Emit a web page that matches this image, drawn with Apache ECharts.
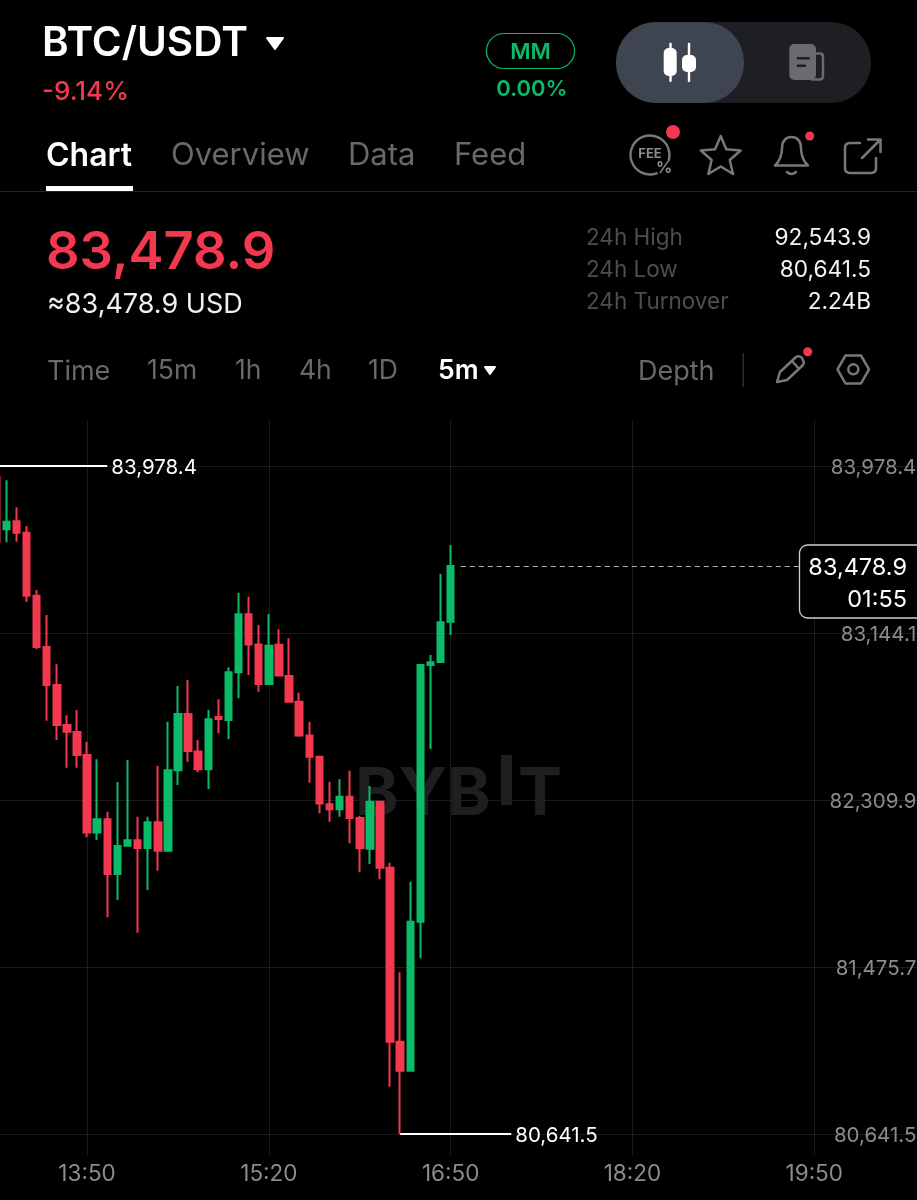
<!DOCTYPE html>
<html>
<head>
    <meta charset="utf-8">
    <title>BTC/USDT</title>
    <script src="https://cdn.jsdelivr.net/npm/echarts@6/dist/echarts.min.js"></script>
    <style>
        html, body { margin: 0; padding: 0; background: #000; }
    </style>
</head>
<body>
<div id="main" style="width: 917px;height:1200px;"></div>
<script type="text/javascript">

        // 5m candles, first one starts at the left edge of the screen
        var opens  = [83923.5,83662,83702,83645,83330.5,83074,82884,82685,82650,82535,82147,82213.5,81940,82082,82108.6,82070,82198.6,82057,82458,82739.5,82552,82463,82724.6,82709.6,82948,83237.6,83086.7,82889.4,83086,82929,82801,82632,82526,82289,82263.5,82326,82220,82067,82301,81971.8,81102.5,80957.7,81702,82984.3,82999.3,83200.6];
        var closes = [83598.7,83700,83645,83330.5,83074,82884,82685,82651,82535,82147,82213.5,81940,82080,82108.6,82070,82198.6,82057,82458,82739.5,82555,82463,82713,82714.6,82948,83237.6,83086.7,82889.4,83080.7,82932,82801,82632,82526,82292.5,82263.5,82326,82220,82068.7,82301,81971.8,81102.5,80957.7,81702,82984.3,82997.8,83197.6,83478.9];
        var lows   = [83597,83597,83600,83300.5,83063,82706,82610,82471,82471,82124,82110,81724,81810,82077,81647,81860,81957,82050,82385,82501,82448,82365,82643,82614.7,82818,82934,82851,82889.4,82932,82801,82626,82396,82243.5,82201.5,82226.5,82093.6,81948.7,81990,81913.8,80877.7,80641.5,80957.7,81519.2,82564.7,82999.3,83134.2];
        var highs  = [83925,83907,83772,83679,83359,83234,82988,82733,82759.5,82601,82513,82251.5,82400,82510,82226.5,82226.5,82481,82701,82879,82909,82610,82759.5,82813,82973,83345.5,83325.5,83184,83239,83162.6,83117.7,82846,82701,82529.7,82401,82413,82456,82231.5,82380,82301,81996.7,81449,81901.8,82984.3,83034.3,83438.9,83583.8];

        var priceTicks = [83978.4, 83144.1, 82309.9, 81475.7, 80641.5];
        var dayHigh = 83978.4;
        var dayLow = 80641.5;
        var lastPrice = 83478.9;
        var countdown = '01:55';

        // 13:05 onwards, the right part of the axis stays empty
        var categories = [];
        for (var m = 13 * 60 + 5, n = 0; n < 93; n++, m += 5) {
            var hh = Math.floor(m / 60) % 24, mm = m % 60;
            categories.push((hh < 10 ? '0' : '') + hh + ':' + (mm < 10 ? '0' : '') + mm);
        }

        var RED = '#f4384f', GREEN = '#0abb68', GRIDLINE = '#1b1b1d', AXIS_TEXT = '#8b8b8d';
        var TAB_TEXT = '#68696d', DIM_TEXT = '#4d4e52', ICON = '#77787b';
        var FONT = 'Inter, "Noto Sans", sans-serif';

        function fmt(v) {
            return v.toLocaleString('en-US', {minimumFractionDigits: 1, maximumFractionDigits: 1});
        }

        function txt(x, y, text, size, color, weight, align) {
            return {
                type: 'text', z: 10,
                style: {
                    x: x, y: y, text: text, fill: color,
                    font: (weight || 400) + ' ' + size + 'px ' + FONT,
                    textAlign: align || 'left', textVerticalAlign: 'middle'
                }
            };
        }
        function rrect(x, y, w, h, r, fill, z) {
            return {type: 'rect', z: z || 10, shape: {x: x, y: y, width: w, height: h, r: r}, style: {fill: fill}};
        }
        function dot(x, y, r) {
            return {type: 'circle', z: 11, shape: {cx: x, cy: y, r: r}, style: {fill: RED}};
        }
        // the graphic component has no plain path type, so icons get registered as shapes
        var iconCount = 0;
        function stroke(d, color, width) {
            var name = 'icon' + (iconCount++);
            echarts.graphic.registerShape(name, echarts.graphic.extendPath(d));
            return {type: name, z: 10, style: {fill: 'none', stroke: color || ICON, lineWidth: width || 2.5, lineJoin: 'round', lineCap: 'round'}};
        }
        function caret(x0, x1, y0, y1) {
            return {type: 'polygon', z: 10, shape: {points: [[x0, y0], [x1, y0], [(x0 + x1) / 2, y1]]}, style: {fill: '#fff', stroke: '#fff', lineWidth: 2, lineJoin: 'round'}};
        }

        function starPoints(cx, cy, R, r) {
            var pts = [];
            for (var i = 0; i < 10; i++) {
                var a = -Math.PI / 2 + i * Math.PI / 5, q = i % 2 ? r : R;
                pts.push([cx + q * Math.cos(a), cy + q * Math.sin(a)]);
            }
            return pts;
        }

        var header = [
            txt(42, 44, 'BTC/USDT', 40.5, '#fff', 600),
            caret(267, 283, 38, 49),
            txt(42, 92.5, '-9.14%', 26, RED, 500),

            // MM pill
            {type: 'rect', z: 10, shape: {x: 486.5, y: 33.5, width: 88, height: 35, r: 17.5}, style: {fill: 'none', stroke: GREEN, lineWidth: 1.2}},
            txt(530.5, 52, 'MM', 22, GREEN, 600, 'center'),
            txt(532, 89, '0.00%', 22, GREEN, 600, 'center'),

            // chart / news switch
            rrect(616, 22, 255, 81, 40, '#1d1f23'),
            rrect(616, 22, 128, 81, 40, '#3f4550'),
            rrect(669.3, 42.7, 2.4, 39.3, 1, '#fff'),
            rrect(663.7, 48, 13, 28, 5, '#fff'),
            rrect(687.8, 42.7, 2.4, 39.3, 1, '#fff'),
            rrect(682, 55, 14, 17, 5, '#fff'),
            stroke('M815 53.5 H820 Q823 53.5 823 56.5 V76 Q823 79.5 819.5 79.5 H812', '#6a6b6e', 2.4),
            rrect(789.3, 44, 26.7, 36, 5, '#6a6b6e'),
            rrect(796.7, 57, 13.3, 2.6, 1, '#1d1f23'),
            rrect(796.7, 64.5, 9.3, 2.6, 1, '#1d1f23'),

            // tabs
            txt(46, 156, 'Chart', 32, '#fff', 600),
            txt(171, 156, 'Overview', 31, TAB_TEXT),
            txt(348, 156, 'Data', 31, TAB_TEXT),
            txt(454, 156, 'Feed', 31, TAB_TEXT),
            rrect(46, 186, 87, 5, 0, '#fff'),
            rrect(0, 191, 917, 1, 0, '#222325'),

            // fee, star, bell, share
            {type: 'arc', z: 10, shape: {cx: 650, cy: 155, r: 19.5, startAngle: 70 * Math.PI / 180, endAngle: 375 * Math.PI / 180, clockwise: true}, style: {fill: 'none', stroke: ICON, lineWidth: 2.4, lineCap: 'round'}},
            txt(650, 154.5, 'FEE', 13, '#8b8c8e', 700, 'center'),
            txt(664, 168.5, '%', 16, '#8b8c8e', 700, 'center'),
            dot(673, 132, 7),
            {type: 'polygon', z: 10, shape: {points: starPoints(720.7, 157, 21, 9.5)}, style: {fill: 'none', stroke: ICON, lineWidth: 2.5, lineJoin: 'round'}},
            stroke('M775 165.5 Q782 159 782 148 C782 141 786 137 791.5 137 C797 137 801 141 801 148 Q801 159 808 165.5 Z M787 172 Q791.5 176 796 172'),
            dot(809.7, 136, 4.5),
            stroke('M860 143 H850 Q845 143 845 148 V168 Q845 173 850 173 H871 Q876 173 876 168 V158 M862 158 L880 140 M868 139.5 H880.5 V152'),

            // price block
            txt(46, 253.5, fmt(lastPrice), 52.5, RED, 600),
            txt(47, 304.5, '≈' + fmt(lastPrice) + ' USD', 27, '#f0f0f0'),
            txt(586, 238.5, '24h High', 22.5, DIM_TEXT),
            txt(586, 270.5, '24h Low', 22.5, DIM_TEXT),
            txt(586, 302.5, '24h Turnover', 22.5, DIM_TEXT),
            txt(871, 238.5, '92,543.9', 22.7, '#f4f4f4', 400, 'right'),
            txt(871, 270.5, '80,641.5', 22.7, '#f4f4f4', 400, 'right'),
            txt(871, 302.5, '2.24B', 22.7, '#f4f4f4', 400, 'right'),

            // interval row
            txt(47, 371.5, 'Time', 27, TAB_TEXT),
            txt(147, 371.5, '15m', 26.5, TAB_TEXT),
            txt(235, 371.5, '1h', 26.5, TAB_TEXT),
            txt(299, 371.5, '4h', 26.5, TAB_TEXT),
            txt(368, 371.5, '1D', 26.5, TAB_TEXT),
            txt(438, 371.5, '5m', 26.5, '#fff', 600),
            caret(485, 495, 367, 374),
            txt(638, 371.5, 'Depth', 27, TAB_TEXT),
            rrect(742.5, 353, 1.5, 34, 0, '#2c2c2e'),
            stroke('M777 382 L780 372 L796 357 Q799 355 802 358 L803 360 Q805 363 802 366 L787 380 Z M792 361 L799 369'),
            dot(807.7, 351.7, 4.5),
            {type: 'polygon', z: 10, shape: {points: [[837.5, 369.3], [845.5, 355.5], [861, 355.5], [869, 369.3], [861, 383.5], [845.5, 383.5]]}, style: {fill: 'none', stroke: ICON, lineWidth: 2.5, lineJoin: 'round'}},
            {type: 'circle', z: 10, shape: {cx: 853.3, cy: 369.3, r: 5}, style: {fill: 'none', stroke: ICON, lineWidth: 2.5}},

            // watermark sits under the candles
            {type: 'text', z: 1, style: {x: 355, y: 795, text: 'BYB', fill: '#1f1f20', font: '700 66px ' + FONT, textVerticalAlign: 'middle'}},
            rrect(501, 755, 11, 50, 0, '#1f1f20', 1),
            {type: 'text', z: 1, style: {x: 518, y: 795, text: 'T', fill: '#1f1f20', font: '700 66px ' + FONT, textVerticalAlign: 'middle'}}
        ];

        function createOption() {
            var candles = [];
            for (var i = 0; i < opens.length; i++) {
                candles.push([opens[i], closes[i], lows[i], highs[i]]);
            }
            var extremeLine = {color: '#fff', width: 2, type: 'solid'};
            return {
                backgroundColor: '#000',
                animation: false,
                textStyle: {fontFamily: FONT},
                // v6 would pull the grid back inside the page otherwise
                grid: {left: -3.85, top: 420, width: 929.2, height: 735, outerBoundsMode: 'none'},
                xAxis: {
                    type: 'category',
                    data: categories,
                    boundaryGap: false,
                    axisLine: {show: false},
                    axisTick: {show: false},
                    axisLabel: {
                        interval: function (idx) { return idx % 18 === 9; },
                        color: AXIS_TEXT, fontSize: 22.5, margin: 8, fontFamily: FONT
                    },
                    splitLine: {
                        show: true,
                        interval: function (idx) { return idx % 18 === 9; },
                        lineStyle: {color: GRIDLINE, width: 1}
                    }
                },
                yAxis: {
                    type: 'value',
                    position: 'right',
                    scale: true,
                    min: 80536.6,
                    max: 84208.2,
                    axisLine: {show: false},
                    axisTick: {show: false, customValues: priceTicks},
                    axisLabel: {
                        inside: true, margin: 9, color: AXIS_TEXT, fontSize: 20.5, fontFamily: FONT,
                        // labels sit a touch under their grid line
                        verticalAlign: 'top',
                        padding: [-9, 0, 0, 0],
                        customValues: priceTicks,
                        formatter: fmt
                    },
                    splitLine: {show: true, lineStyle: {color: GRIDLINE, width: 1}}
                },
                series: [{
                    type: 'candlestick',
                    data: candles,
                    barWidth: 7,
                    itemStyle: {color: GREEN, color0: RED, borderColor: GREEN, borderColor0: RED, borderWidth: 2},
                    markLine: {
                        silent: true,
                        symbol: ['none', 'none'],
                        data: [
                            [{coord: [0, dayHigh], lineStyle: extremeLine, label: {show: true, position: 'end', distance: 4, offset: [0, 2], color: '#fff', fontSize: 20.5, fontFamily: FONT, formatter: fmt(dayHigh)}}, {coord: [11, dayHigh]}],
                            [{coord: [40, dayLow], lineStyle: extremeLine, label: {show: true, position: 'end', distance: 4, offset: [0, 2], color: '#fff', fontSize: 20.5, fontFamily: FONT, formatter: fmt(dayLow)}}, {coord: [51, dayLow]}],
                            [{coord: [46, lastPrice], lineStyle: {color: '#b4b4b4', width: 1, type: [5, 4]}, label: {show: false}}, {coord: [80, lastPrice]}]
                        ]
                    }
                }],
                graphic: {elements: header}
            };
        }

        var myChart = echarts.init(document.getElementById('main'));
        myChart.setOption(createOption());

        // price tag follows the last price on the axis
        var py = myChart.convertToPixel({yAxisIndex: 0}, lastPrice);
        myChart.setOption({
            graphic: {elements: header.concat([
                {type: 'rect', z: 12, shape: {x: 799.5, y: py - 21, width: 130, height: 73, r: 8}, style: {fill: '#000', stroke: '#d0d0d0', lineWidth: 1.3}},
                {type: 'text', z: 13, style: {x: 907, y: py + 2, text: fmt(lastPrice), fill: '#fff', font: '400 23.5px ' + FONT, textAlign: 'right', textVerticalAlign: 'middle'}},
                {type: 'text', z: 13, style: {x: 907, y: py + 34, text: countdown, fill: '#fff', font: '400 23.5px ' + FONT, textAlign: 'right', textVerticalAlign: 'middle'}}
            ])}
        });

</script>
</body>
</html>
